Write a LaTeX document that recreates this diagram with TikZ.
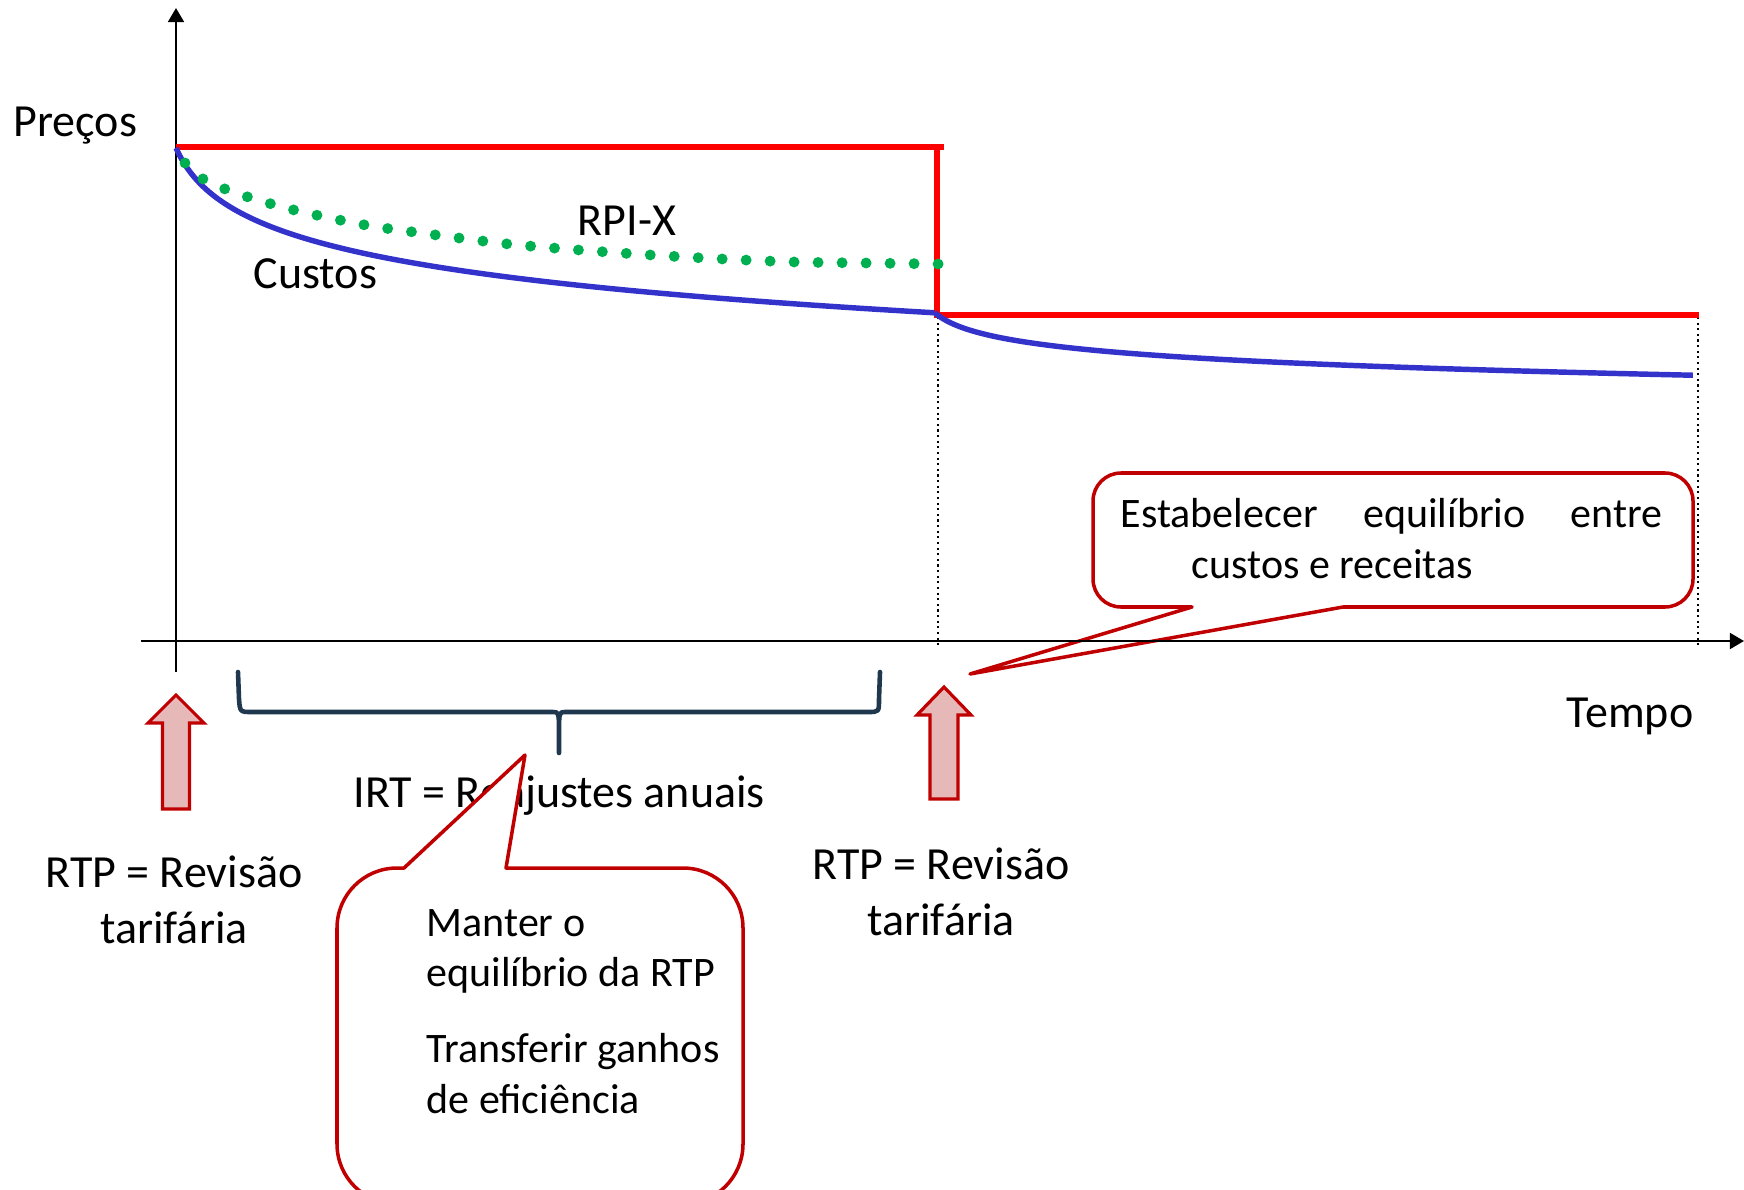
\documentclass[tikz,border=0pt]{standalone}
\usepackage{fontspec}
\setmainfont{Carlito}
\usetikzlibrary{arrows.meta}

\definecolor{priceRed}{RGB}{255,0,0}
\definecolor{costBlue}{RGB}{51,51,204}
\definecolor{rpiGreen}{RGB}{0,176,80}
\definecolor{calloutRed}{RGB}{192,0,0}
\definecolor{arrowPink}{RGB}{230,185,184}
\definecolor{braceNavy}{RGB}{31,56,77}

\begin{document}
\begin{tikzpicture}[
    lbl/.style={inner sep=0pt, font=\fontsize{13.09}{15.9}\selectfont},
    cbox/.style={inner sep=0pt, font=\fontsize{11.95}{14.4}\selectfont},
    axis/.style={line width=0.7pt, -{Triangle[length=4pt,width=4.5pt]}},
    price/.style={priceRed, line width=1.85pt},
    cost/.style={costBlue, line width=1.55pt},
    rpix/.style={rpiGreen, line width=3.1pt, line cap=round, dash pattern=on 0pt off 0.24cm},
    guide/.style={line width=0.6pt, dash pattern=on 0.6pt off 1pt},
    bigarrow/.style={draw=calloutRed, fill=arrowPink, line width=0.9pt},
    callout/.style={draw=calloutRed, fill=white, line width=1pt, line join=round},
    brace/.style={braceNavy, line width=1.3pt, line cap=round, line join=round}
]
                    \clip (-1.76,-5.48) rectangle (15.68,6.41);

                    \draw[guide] (7.62,3.24) -- (7.62,-0.06);
                    \draw[guide] (15.22,3.24) -- (15.22,-0.06);

                    \draw[callout] (10.16,0.34) -- (7.94,-0.33) -- (11.67,0.34) [rounded corners=0.28cm] -- (15.17,0.34) -- (15.17,1.68) -- (9.17,1.68) -- (9.17,0.34) [sharp corners] -- cycle;
                    \node[cbox, anchor=base west, align=left] (equil) at (9.44,0.63) {\makebox[5.42cm][s]{Estabelecer equilíbrio entre}\\\hspace*{0.71cm}custos e receitas};

                    \draw[axis] (-0.35,0) -- (15.68,0);
                    \draw[axis] (0,-0.31) -- (0,6.33);

                    \draw[price] (0,4.94) -- (7.68,4.94);
                    \draw[price] (7.61,4.94) -- (7.61,3.26) -- (15.23,3.26);

                    \draw[cost] plot[domain=0:7.59, samples=200] (\x, {4.93-0.45*ln(1+\x/0.2)});
                    \draw[cost] plot[domain=0:7.58, samples=200] (7.59+\x, {3.28-0.17*ln(1+\x/0.2)});
                    \draw[rpix] plot[smooth] coordinates {(0.09,4.78) (0.27,4.62) (0.49,4.52) (0.72,4.44) (1.18,4.31) (1.89,4.16) (2.60,4.06) (3.32,3.97) (4.03,3.91) (4.75,3.86) (5.47,3.82) (6.19,3.79) (6.91,3.78) (7.63,3.77)};

                    \node[lbl, anchor=base west] (precos) at (-1.63,5.04) {Preços};
                    \node[lbl, anchor=base west] (rpi) at (4.01,4.06) {RPI-X};
                    \node[lbl, anchor=base west] (custos) at (0.77,3.53) {Custos};
                    \node[lbl, anchor=base east] (tempo) at (15.18,-0.86) {Tempo};
                    \node[lbl, align=center, anchor=base] (rtpa) at (-0.02,-3.02) {RTP = Revisão\\tarifária};
                    \node[lbl, align=center, anchor=base] (rtpb) at (7.65,-2.94) {RTP = Revisão\\tarifária};

                    \draw[bigarrow, shift={(0,-0.54)}] (0,0) -- (0.28,-0.28) -- (0.135,-0.28) -- (0.135,-1.14) -- (-0.135,-1.14) -- (-0.135,-0.28) -- (-0.28,-0.28) -- cycle;
                    \draw[bigarrow, shift={(7.68,-0.46)}] (0,0) -- (0.27,-0.28) -- (0.14,-0.28) -- (0.14,-1.12) -- (-0.14,-1.12) -- (-0.14,-0.28) -- (-0.27,-0.28) -- cycle;

                    \draw[brace] (0.62,-0.31) -- (0.63,-0.58) .. controls (0.64,-0.71) .. (0.76,-0.71) -- (3.77,-0.71) .. controls (3.83,-0.71) .. (3.83,-0.95) -- (3.83,-1.12) -- (3.83,-0.95) .. controls (3.83,-0.71) .. (3.89,-0.71) -- (6.92,-0.71) .. controls (7.03,-0.71) .. (7.03,-0.58) -- (7.04,-0.31);
                    \node[lbl, anchor=base west] (irt) at (1.77,-1.66) {IRT = Reajustes anuais};

                    \draw[callout] (2.28,-2.27) -- (3.49,-1.14) -- (3.30,-2.27) [rounded corners=0.6cm] -- (5.67,-2.27) -- (5.67,-5.63) -- (1.61,-5.63) -- (1.61,-2.27) [sharp corners] -- cycle;
                    \node[cbox, anchor=base west, align=left] (manter) at (2.50,-4.72) {Manter o\\equilíbrio da RTP\\[0.25cm]Transferir ganhos\\de eficiência};
\end{tikzpicture}
\end{document}
